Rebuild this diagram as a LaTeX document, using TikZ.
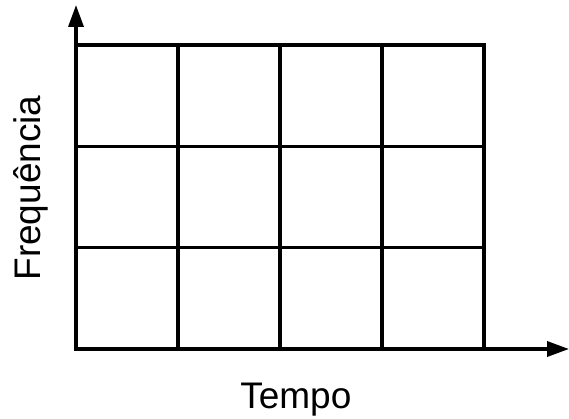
\documentclass[tikz,border=0pt]{standalone}
\usepackage{fontspec}
\setmainfont{Liberation Sans}
\usetikzlibrary{arrows.meta}

\begin{document}
\begin{tikzpicture}[x=1pt, y=1pt,
  axis/.style={-{Triangle[length=22pt,width=15pt]}, line width=3.5pt},
  cell/.style={line width=3.2pt, line cap=rect},
  label/.style={font=\fontsize{37}{42}\selectfont, inner sep=0pt}
]
\useasboundingbox (0,0) rectangle (569,418);
\coordinate (origin) at (76,69);
\coordinate (ytip) at (76,413);
\coordinate (xtip) at (569,69);

% grid of cells
\foreach \i in {0,...,4}
  \draw[cell] (76+102*\i,69) -- (76+102*\i,373);
\foreach \j in {0,...,3}
  \draw[cell] (76,69+101.33*\j) -- (484,69+101.33*\j);

% axes
\draw[axis] (origin) -- (ytip);
\draw[axis] (origin) -- (xtip);

\node[label, rotate=90, anchor=base] (freq) at (40,230) {Frequência};
\node[label, anchor=base] (tempo) at (295.8,10) {Tempo};
\end{tikzpicture}
\end{document}
